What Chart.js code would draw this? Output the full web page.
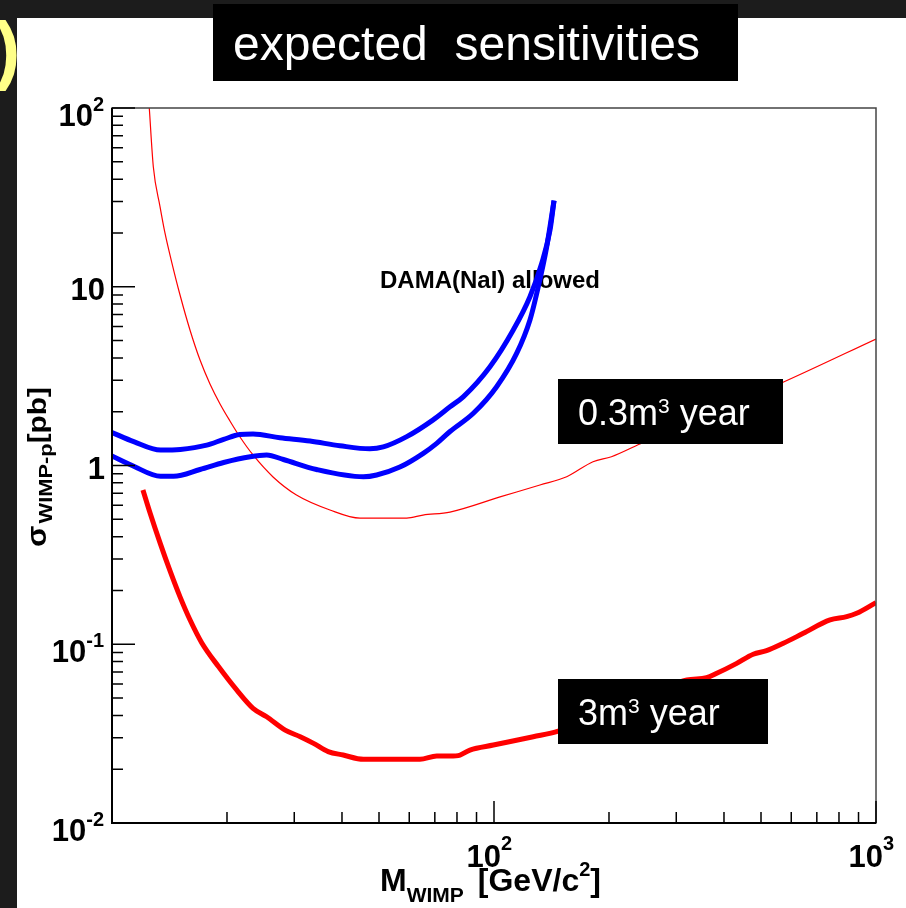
<!DOCTYPE html>
<html>
<head>
<meta charset="utf-8">
<title>expected sensitivities</title>
<script src="https://cdn.jsdelivr.net/npm/chart.js@4.4.0/dist/chart.umd.min.js"></script>
<style>
  html, body { margin: 0; padding: 0; background: #1c1c1c; }
  canvas { display: block; }
</style>
</head>
<body>
<canvas id="sensChart" width="906" height="908"></canvas>
<script>
// WIMP mass [GeV/c^2] and cross section [pb]

// 0.3 m^3 year (thin red)
const thinMass = [12.52, 12.83, 13.36, 13.76, 14.33, 15.07, 16.0, 17.0, 18.05, 19.18, 20.36, 21.63, 23.4, 26.4, 30.4, 37.2, 44.6, 59.1, 65.2, 76.7, 103.7, 131.9, 155, 181.6, 203, 241, 346, 571, 1000];
const thinSigma = [100, 46.8, 28.0, 20.0, 13.75, 8.99, 5.73, 3.89, 2.86, 2.21, 1.775, 1.443, 1.145, 0.863, 0.684, 0.564, 0.508, 0.508, 0.528, 0.549, 0.667, 0.778, 0.865, 1.05, 1.12, 1.32, 1.84, 2.92, 5.1];

// 3 m^3 year (thick red)
const thickMass = [12.05, 12.58, 13.36, 14.19, 15.07, 16.0, 17.17, 19.0, 21.2, 23.4, 25.4, 28.4, 31.1, 33.7, 36.8, 40.3, 45.5, 64.0, 70.8, 76.7, 81.5, 86.5, 99.6, 126.7, 147.3, 214, 320, 360, 383, 432, 477, 517, 572, 645, 758, 838, 890, 1000];
const thickSigma = [0.729, 0.542, 0.369, 0.257, 0.184, 0.137, 0.102, 0.075, 0.0555, 0.0438, 0.0393, 0.0331, 0.0304, 0.0279, 0.0251, 0.0240, 0.0227, 0.0227, 0.0237, 0.0237, 0.0240, 0.0256, 0.0273, 0.0304, 0.0327, 0.0449, 0.0631, 0.0650, 0.0688, 0.0782, 0.0879, 0.0920, 0.1012, 0.1151, 0.1367, 0.1426, 0.149, 0.171];

// DAMA(NaI) allowed region, upper and lower edge (blue)
const damaUpperMass = [10, 11.4, 13.4, 15.1, 17.7, 19.6, 21.6, 23.4, 27.5, 33.0, 39.5, 47.3, 51.3, 59.1, 69.3, 76.7, 83.2, 97.6, 112.3, 124.2, 133.3, 140.2, 143.6];
const damaUpperSigma = [1.53, 1.36, 1.22, 1.23, 1.30, 1.40, 1.49, 1.50, 1.43, 1.37, 1.29, 1.24, 1.27, 1.45, 1.80, 2.13, 2.43, 3.57, 5.73, 8.8, 13.5, 20.8, 30.3];
const damaLowerMass = [10, 11.4, 13.4, 14.5, 17.0, 19.6, 23.0, 25.4, 28.1, 34.3, 45.5, 49.3, 56.7, 65.3, 70.8, 76.7, 88.3, 101.6, 114.7, 124.2, 130.6, 137.4, 143.6];
const damaLowerSigma = [1.13, 0.99, 0.87, 0.87, 0.95, 1.04, 1.12, 1.145, 1.08, 0.95, 0.865, 0.885, 0.98, 1.17, 1.33, 1.55, 1.96, 2.76, 4.25, 6.52, 10.0, 16.75, 30.3];

// tick labels
const xTickLabels = [
  { value: 100, base: "10", exp: "2" },
  { value: 1000, base: "10", exp: "3" },
];
const yTickLabels = [
  { value: 100, base: "10", exp: "2" },
  { value: 10, base: "10", exp: "" },
  { value: 1, base: "1", exp: "" },
  { value: 0.1, base: "10", exp: "-1" },
  { value: 0.01, base: "10", exp: "-2" },
];

const FONT = '"Liberation Sans", Arial, sans-serif';

function toPoints(xs, ys) {
  return xs.map((x, i) => ({ x: x, y: ys[i] }));
}

// values for the small ticks of a log axis, 1..9 in each decade
function logTickValues(min, max) {
  let vals = [];
  for (let d = min; d < max; d *= 10) {
    for (let k = 1; k < 10; k++) vals.push(d * k);
  }
  vals.push(max);
  return vals;
}

function isDecade(v) {
  let l = Math.log10(v);
  return Math.abs(l - Math.round(l)) < 1e-6;
}

// draws text with a smaller raised/lowered part
function drawPieces(ctx, pieces, x, y) {
  for (let p of pieces) {
    ctx.font = p.font;
    ctx.fillText(p.text, x, y + (p.dy || 0));
    x += ctx.measureText(p.text).width + (p.gap || 0);
  }
  return x;
}

const slideDecor = {
  id: "slideDecor",
  beforeDraw(chart) {
    const ctx = chart.ctx;
    ctx.save();
    ctx.fillStyle = "#1c1c1c";
    ctx.fillRect(0, 0, chart.width, chart.height);
    // bit of a yellow bracket from the slide
    ctx.fillStyle = "#ffff88";
    ctx.font = "bold 76px " + FONT;
    ctx.textBaseline = "alphabetic";
    ctx.fillText(")", -5, 75);
    ctx.fillStyle = "#ffffff";
    ctx.fillRect(17, 18, chart.width - 17, chart.height - 18);
    // title box
    ctx.fillStyle = "#000000";
    ctx.fillRect(213, 4, 525, 77);
    ctx.fillStyle = "#ffffff";
    ctx.font = "48px " + FONT;
    ctx.fillText("expected  sensitivities", 233, 60);
    ctx.restore();
  },
  beforeDatasetsDraw(chart) {
    const ctx = chart.ctx;
    ctx.save();
    ctx.fillStyle = "#000000";
    ctx.font = "bold 24px " + FONT;
    ctx.fillText("DAMA(NaI) allowed", 380, 288);
    ctx.restore();
  },
  afterDatasetsDraw(chart) {
    const ctx = chart.ctx;
    const xs = chart.scales.x;
    const ys = chart.scales.y;
    const a = chart.chartArea;
    ctx.save();

    // frame
    ctx.lineWidth = 1.5;
    ctx.strokeStyle = "#444444";
    ctx.strokeRect(a.left, a.top, a.right - a.left, a.bottom - a.top);
    ctx.strokeStyle = "#000000";
    ctx.lineWidth = 2;
    ctx.beginPath();
    ctx.moveTo(a.left, a.top);
    ctx.lineTo(a.left, a.bottom);
    ctx.lineTo(a.right, a.bottom);
    ctx.stroke();

    // ticks, drawn inwards
    ctx.lineWidth = 1.5;
    ctx.beginPath();
    for (let v of logTickValues(xs.min, xs.max)) {
      let px = xs.getPixelForValue(v);
      let len = isDecade(v) ? 22 : 11;
      ctx.moveTo(px, a.bottom);
      ctx.lineTo(px, a.bottom - len);
    }
    for (let v of logTickValues(ys.min, ys.max)) {
      let py = ys.getPixelForValue(v);
      let len = isDecade(v) ? 23 : 11;
      ctx.moveTo(a.left, py);
      ctx.lineTo(a.left + len, py);
    }
    ctx.stroke();

    // tick labels
    ctx.fillStyle = "#000000";
    ctx.textBaseline = "alphabetic";
    const baseFont = "bold 31px " + FONT;
    const expFont = "bold 20px " + FONT;
    for (let t of yTickLabels) {
      let py = ys.getPixelForValue(t.value);
      ctx.textAlign = "right";
      if (t.exp) {
        ctx.font = expFont;
        let ew = ctx.measureText(t.exp).width;
        ctx.fillText(t.exp, 104, py + 3);
        ctx.font = baseFont;
        ctx.fillText(t.base, 104 - ew, py + 18);
      } else {
        ctx.font = baseFont;
        ctx.fillText(t.base, 105, py + 13);
      }
    }
    for (let t of xTickLabels) {
      let px = xs.getPixelForValue(t.value);
      ctx.textAlign = "right";
      ctx.font = baseFont;
      ctx.fillText(t.base, px + 7, 867);
      ctx.textAlign = "left";
      ctx.font = expFont;
      ctx.fillText(t.exp, px + 7, 850);
    }

    // axis titles
    ctx.textAlign = "left";
    drawPieces(ctx, [
      { text: "M", font: "bold 32px " + FONT },
      { text: "WIMP", font: "bold 21px " + FONT, dy: 11, gap: 14 },
      { text: "[GeV/c", font: "bold 32px " + FONT },
      { text: "2", font: "bold 20px " + FONT, dy: -15 },
      { text: "]", font: "bold 32px " + FONT },
    ], 380, 891);

    ctx.save();
    ctx.translate(46, 547);
    ctx.rotate(-Math.PI / 2);
    ctx.scale(1.15, 1);
    drawPieces(ctx, [
      { text: "\u03c3", font: "bold 27px " + FONT, gap: 2 },
      { text: "WIMP-p", font: "bold 19px " + FONT, dy: 6 },
      { text: "[pb]", font: "bold 26px " + FONT },
    ], 0, 0);
    ctx.restore();

    // exposure labels
    ctx.fillStyle = "#000000";
    ctx.fillRect(558, 379, 225, 65);
    ctx.fillRect(558, 679, 210, 65);
    ctx.fillStyle = "#ffffff";
    const labFont = "36px " + FONT;
    const supFont = "21px " + FONT;
    drawPieces(ctx, [
      { text: "0.3m", font: labFont },
      { text: "3", font: supFont, dy: -12 },
      { text: " year", font: labFont },
    ], 578, 425);
    drawPieces(ctx, [
      { text: "3m", font: labFont },
      { text: "3", font: supFont, dy: -12 },
      { text: " year", font: labFont },
    ], 578, 725);

    ctx.restore();
  },
};

const lineStyle = {
  showLine: true,
  pointRadius: 0,
  fill: false,
  cubicInterpolationMode: "monotone",
};

const sensData = {
  datasets: [
    Object.assign({ label: "DAMA upper", data: toPoints(damaUpperMass, damaUpperSigma), borderColor: "#0000ff", borderWidth: 5 }, lineStyle),
    Object.assign({ label: "DAMA lower", data: toPoints(damaLowerMass, damaLowerSigma), borderColor: "#0000ff", borderWidth: 5 }, lineStyle),
    Object.assign({ label: "0.3m3 year", data: toPoints(thinMass, thinSigma), borderColor: "#ff0000", borderWidth: 1.2 }, lineStyle),
    Object.assign({ label: "3m3 year", data: toPoints(thickMass, thickSigma), borderColor: "#ff0000", borderWidth: 5 }, lineStyle),
  ],
};

const sensOptions = {
  responsive: false,
  animation: false,
  devicePixelRatio: 1,
  layout: { padding: { left: 112, top: 108, right: 30, bottom: 85 } },
  plugins: {
    legend: { display: false },
    tooltip: { enabled: false },
  },
  scales: {
    x: { type: "logarithmic", min: 10, max: 1000, display: false },
    y: { type: "logarithmic", min: 0.01, max: 100, display: false },
  },
};

let ctx = document.getElementById("sensChart").getContext("2d");
let sensChart = new Chart(ctx, {
  type: "scatter",
  data: sensData,
  options: sensOptions,
  plugins: [slideDecor],
});
</script>
</body>
</html>
